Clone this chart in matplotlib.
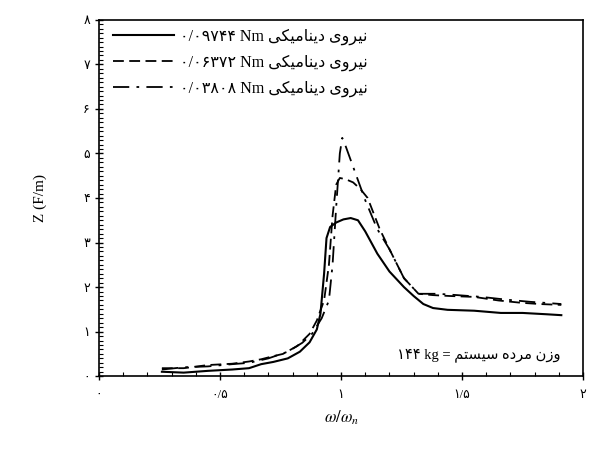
import numpy as np
import matplotlib
matplotlib.use("Agg")
import matplotlib.pyplot as plt
from matplotlib.ticker import MultipleLocator, FixedLocator, FixedFormatter

plt.rcParams['font.family'] = ['Liberation Serif', 'DejaVu Sans']
plt.rcParams['mathtext.fontset'] = 'stix'

# frequency ratio and impedance curves
x_solid = [0.26, 0.35, 0.45, 0.55, 0.62, 0.67, 0.72, 0.78, 0.83, 0.87, 0.90, 0.915, 0.93, 0.94,
           0.955, 0.98, 1.01, 1.04, 1.07, 1.10, 1.15, 1.20, 1.26, 1.30, 1.34, 1.38, 1.44, 1.55,
           1.66, 1.75, 1.85, 1.91]
z_solid = [0.10, 0.08, 0.12, 0.15, 0.18, 0.27, 0.32, 0.40, 0.55, 0.76, 1.05, 1.4, 2.3, 3.1,
           3.35, 3.45, 3.52, 3.55, 3.50, 3.25, 2.75, 2.35, 2.0, 1.8, 1.62, 1.53, 1.49, 1.47,
           1.42, 1.42, 1.39, 1.37]

x_dash = [0.26, 0.35, 0.45, 0.55, 0.62, 0.67, 0.72, 0.76, 0.82, 0.87, 0.90, 0.93, 0.95, 0.965,
          0.98, 0.995, 1.02, 1.05, 1.08, 1.11, 1.16, 1.20, 1.26, 1.32, 1.38, 1.45, 1.55, 1.65,
          1.74, 1.82, 1.91]
z_dash = [0.18, 0.18, 0.25, 0.28, 0.33, 0.38, 0.45, 0.50, 0.68, 0.95, 1.25, 1.7, 2.5, 3.6,
          4.3, 4.45, 4.42, 4.35, 4.2, 4.0, 3.3, 2.85, 2.2, 1.85, 1.82, 1.80, 1.78, 1.70,
          1.65, 1.62, 1.60]

x_dashdot = [0.26, 0.35, 0.45, 0.55, 0.62, 0.70, 0.78, 0.84, 0.88, 0.92, 0.95, 0.965, 0.98,
             0.995, 1.005, 1.02, 1.06, 1.10, 1.15, 1.20, 1.26, 1.32, 1.40, 1.48, 1.58, 1.68,
             1.78, 1.86, 1.91]
z_dashdot = [0.15, 0.20, 0.22, 0.27, 0.30, 0.40, 0.55, 0.75, 0.95, 1.3, 1.7, 2.5, 3.8,
             5.0, 5.35, 5.15, 4.55, 3.95, 3.3, 2.85, 2.2, 1.85, 1.85, 1.82, 1.78, 1.72,
             1.67, 1.64, 1.62]

# Persian labels, written in visual order with presentation forms (no shaping in matplotlib)
word_niru = "\uFEE7\uFBFF\uFEAE\uFEED\uFBFC"                  # نیروی
word_dinamiki = "\uFEA9\uFBFE\uFEE8\uFE8E\uFEE3\uFBFF\uFB91\uFBFD"  # دینامیکی
persian_force = word_dinamiki[::-1] + " " + word_niru[::-1]
force_values = ["۰/۰۹۷۴۴", "۰/۰۶۳۷۲", "۰/۰۳۸۰۸"]

word_vazn = "\uFEED\uFEAF\uFEE5"          # وزن
word_morde = "\uFEE3\uFEAE\uFEA9\uFEE9"   # مرده
word_system = "\uFEB3\uFBFF\uFEB4\uFE98\uFEE2"  # سیستم
mass_note = "۱۴۴ kg = " + word_system[::-1] + " " + word_morde[::-1] + " " + word_vazn[::-1]

x_ticks = [0, 0.5, 1, 1.5, 2]
x_tick_labels = ["۰", "۰/۵", "۱", "۱/۵", "۲"]
y_ticks = [0, 1, 2, 3, 4, 5, 6, 7, 8]
y_tick_labels = ["۰", "۱", "۲", "۳", "۴", "۵", "۶", "۷", "۸"]

fig = plt.figure(figsize=(5.89, 4.5), dpi=100)
ax = fig.add_axes([0.168, 0.164, 0.822, 0.792])

ax.plot(x_solid, z_solid, color='black', lw=1.5, ls='-',
        label=force_values[0] + " Nm " + persian_force)
ax.plot(x_dash, z_dash, color='black', lw=1.3, ls=(0, (6, 3)),
        label=force_values[1] + " Nm " + persian_force)
ax.plot(x_dashdot, z_dashdot, color='black', lw=1.3, ls=(0, (9, 4, 1.5, 4)),
        label=force_values[2] + " Nm " + persian_force)

ax.set_xlim(0, 2)
ax.set_ylim(0, 8)
ax.xaxis.set_major_locator(FixedLocator(x_ticks))
ax.xaxis.set_major_formatter(FixedFormatter(x_tick_labels))
ax.yaxis.set_major_locator(FixedLocator(y_ticks))
ax.yaxis.set_major_formatter(FixedFormatter(y_tick_labels))
ax.xaxis.set_minor_locator(MultipleLocator(0.1))
ax.yaxis.set_minor_locator(MultipleLocator(0.1))
ax.tick_params(which='major', direction='inout', length=6, width=1, labelsize=9)
ax.tick_params(which='minor', direction='in', length=3, width=0.8)
ax.tick_params(axis='x', pad=6)
for sp in ax.spines.values():
    sp.set_linewidth(1.2)

ax.set_xlabel(r"$\omega/\omega_n$", fontsize=12, labelpad=6)
ax.set_ylabel("Z (F/m)", fontsize=11, labelpad=26)

ax.text(1.57, 0.47, mass_note, fontsize=10.5, ha='center', va='center')

ax.legend(loc='upper left', bbox_to_anchor=(0.0, 1.015), frameon=False, fontsize=11.5,
          handlelength=3.8, handletextpad=0.4, labelspacing=0.6)

fig.savefig("out.png", dpi=100)
